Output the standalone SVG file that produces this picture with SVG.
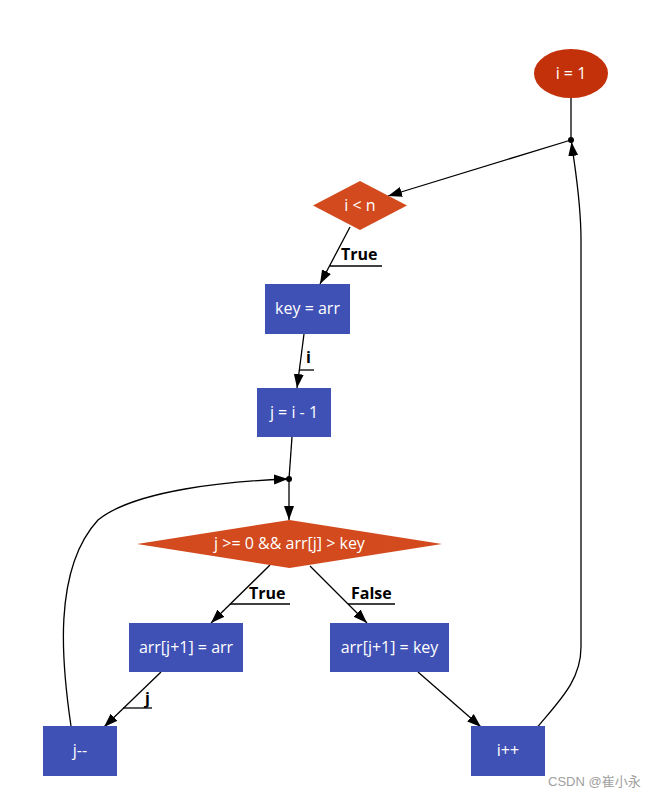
<svg xmlns="http://www.w3.org/2000/svg" width="662" height="798" viewBox="0 0 662 798">
<style>
.lbl{font-family:"Open Sans","Noto Sans",sans-serif;font-size:16px;fill:#ffffff;text-anchor:middle;dominant-baseline:central}
.elbl{font-family:"Open Sans","Noto Sans",sans-serif;font-size:16px;font-weight:bold;fill:#000000}
.box{fill:#3F51B5}
.dia{fill:#D24A1E}
.edge{fill:none;stroke:#000;stroke-width:1.3}
.ul{stroke:#000;stroke-width:1.3}
</style>
<defs>
<marker id="arr" markerUnits="userSpaceOnUse" markerWidth="16" markerHeight="12" refX="14" refY="5" orient="auto">
<path d="M0,0 L14,5 L0,10 z" fill="#000"/>
</marker>
</defs>
<rect width="662" height="798" fill="#ffffff"/>
<g id="connectors">
<path class="edge" d="M571,98 L571,140"/>
<path class="edge" d="M571,140 L388,196" marker-end="url(#arr)"/>
<path class="edge" d="M350,227 L320,284" marker-end="url(#arr)"/>
<path class="edge" d="M304,334 L297,388" marker-end="url(#arr)"/>
<path class="edge" d="M292,437 L289,479"/>
<path class="edge" d="M289,479 L289,520" marker-end="url(#arr)"/>
<path class="edge" d="M270,565 L211,623" marker-end="url(#arr)"/>
<path class="edge" d="M310,566 L367,623" marker-end="url(#arr)"/>
<path class="edge" d="M161,672 L104,727" marker-end="url(#arr)"/>
<path class="edge" d="M418,672 L481,727" marker-end="url(#arr)"/>
<path class="edge" d="M71,726 C62,665 52,570 98,520 C135,490 230,481 288,479" marker-end="url(#arr)"/>
<path class="edge" d="M537.5,727 C560,700 581,680 581,647 L581,240 C581,200 575,170 571.5,142" marker-end="url(#arr)"/>
<circle cx="571" cy="140" r="3" fill="#000"/>
<circle cx="289" cy="479" r="3" fill="#000"/>
<text class="elbl" x="341" y="260">True</text>
<line class="ul" x1="330" y1="266" x2="382" y2="266"/>
<text class="elbl" x="306" y="363">i</text>
<line class="ul" x1="299" y1="370" x2="314" y2="370"/>
<text class="elbl" x="249" y="599">True</text>
<line class="ul" x1="230" y1="604" x2="290" y2="604"/>
<text class="elbl" x="351" y="599">False</text>
<line class="ul" x1="348" y1="604" x2="395" y2="604"/>
<text class="elbl" x="145" y="704">j</text>
<line class="ul" x1="123" y1="708" x2="152" y2="708"/>
</g>
<g id="n_start">
<ellipse cx="571" cy="73.5" rx="37" ry="24.5" fill="#C3310B"/>
<text class="lbl" x="571" y="72.5">i = 1</text>
</g>
<g id="n_cond1">
<polygon class="dia" points="360,181 407,205.5 360,230 313,205.5"/>
<text class="lbl" x="360" y="204.5">i &lt; n</text>
</g>
<g id="n_key">
<rect class="box" x="265" y="284" width="85" height="50"/>
<text class="lbl" x="307.5" y="308">key = arr</text>
</g>
<g id="n_j">
<rect class="box" x="257" y="388" width="74" height="49"/>
<text class="lbl" x="294" y="411.5">j = i - 1</text>
</g>
<g id="n_cond2">
<polygon class="dia" points="289.5,520 442,544 289.5,568 137,544"/>
<text class="lbl" x="289.5" y="543">j &gt;= 0 &amp;&amp; arr[j] &gt; key</text>
</g>
<g id="n_shift">
<rect class="box" x="129" y="623" width="114" height="49"/>
<text class="lbl" x="186" y="646.5">arr[j+1] = arr</text>
</g>
<g id="n_insert">
<rect class="box" x="330" y="623" width="119" height="49"/>
<text class="lbl" x="389.5" y="646.5">arr[j+1] = key</text>
</g>
<g id="n_jdec">
<rect class="box" x="43" y="726" width="74" height="50"/>
<text class="lbl" x="80" y="750">j--</text>
</g>
<g id="n_iinc">
<rect class="box" x="471" y="726" width="74" height="50"/>
<text class="lbl" x="508" y="750">i++</text>
</g>
<text x="548" y="786" font-family="'Liberation Sans','Noto Sans CJK SC',sans-serif" font-size="13" fill="#a0a0a0">CSDN @崔小永</text>
</svg>
